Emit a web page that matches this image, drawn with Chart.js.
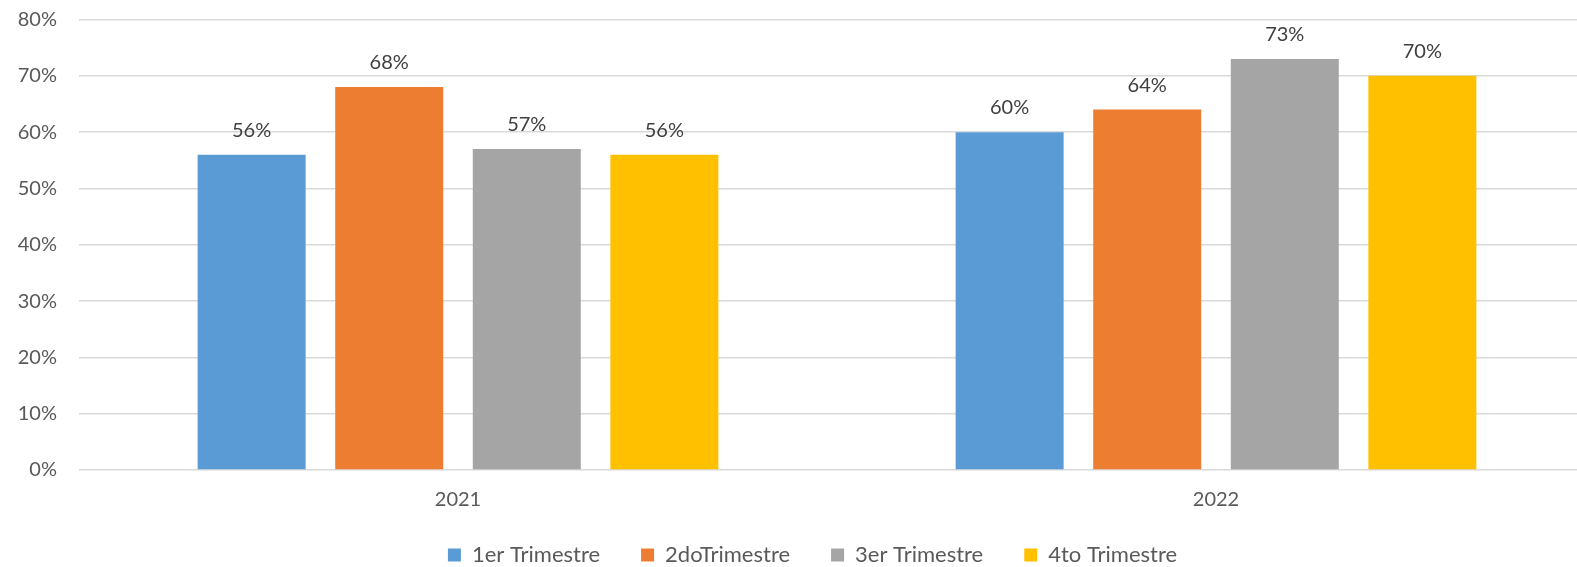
<!DOCTYPE html>
<html>
<head>
<meta charset="utf-8">
<script src="https://cdn.jsdelivr.net/npm/chart.js@4/dist/chart.umd.min.js"></script>
<style>
  html, body { margin: 0; padding: 0; background: #fff; overflow: hidden; }
  /* canvas runs a little past the right edge of the window, plot is cut there */
  #wrap { position: relative; width: 1595px; height: 567px; }
</style>
</head>
<body>
<div id="wrap"><canvas id="myChart"></canvas></div>
<script>
// categories and series
const years = ['2021', '2022'];
const quarterNames = ['1er Trimestre', '2doTrimestre', '3er Trimestre', '4to Trimestre'];
const q1 = [56, 60];
const q2 = [68, 64];
const q3 = [57, 73];
const q4 = [56, 70];
const yTickMax = 80;
const yTickStep = 10;

const colors = ['#5B9BD5', '#ED7D31', '#A5A5A5', '#FFC000'];
const FONT = 'Lato';

// percentage text above every bar
const valueLabels = {
    id: 'valueLabels',
    afterDatasetsDraw(chart) {
        const ctx = chart.ctx;
        ctx.save();
        ctx.font = '20px ' + FONT;
        ctx.fillStyle = '#404040';
        ctx.textAlign = 'center';
        ctx.textBaseline = 'alphabetic';
        chart.data.datasets.forEach((ds, i) => {
            chart.getDatasetMeta(i).data.forEach((bar, j) => {
                ctx.fillText(ds.data[j] + '%', bar.x, bar.y - 18);
            });
        });
        ctx.restore();
    }
};

// legend: fixed height in the layout, then nudged into place
const legendPlace = {
    id: 'legendPlace',
    beforeInit(chart) {
        const fit = chart.legend.fit;
        chart.legend.fit = function() {
            fit.call(this);
            this.height = 55;
        };
    },
    afterLayout(chart) {
        const lg = chart.legend;
        lg.top -= 9;
        lg.left += 15;
        lg.right += 15;
    }
};

const ctx = document.getElementById('myChart').getContext('2d');

new Chart(ctx, {
    type: 'bar',
    data: {
        labels: years,
        datasets: [q1, q2, q3, q4].map((vals, i) => ({
            label: quarterNames[i],
            data: vals,
            backgroundColor: colors[i],
            categoryPercentage: 0.726,
            barPercentage: 0.785
        }))
    },
    options: {
        responsive: true,
        maintainAspectRatio: false,
        animation: false,
        layout: { padding: { top: 19.5, left: 0, right: 0, bottom: 0 } },
        plugins: {
            legend: {
                position: 'bottom',
                labels: {
                    boxWidth: 13,
                    boxHeight: 13,
                    padding: 41,
                    color: '#595959',
                    font: { family: FONT, size: 22 }
                }
            },
            tooltip: { enabled: false }
        },
        scales: {
            y: {
                min: 0,
                max: yTickMax,
                border: { display: false },
                grid: { color: '#d9d9d9', lineWidth: 1.5, drawTicks: false },
                ticks: {
                    stepSize: yTickStep,
                    padding: 22,
                    color: '#595959',
                    font: { family: FONT, size: 20 },
                    callback: v => v + '%'
                },
                afterFit: s => {
                    s.width = 79;
                    s.paddingTop = 0;
                    s.paddingBottom = 0;
                }
            },
            x: {
                border: { display: false },
                grid: { display: false, drawTicks: false },
                ticks: {
                    padding: 18,
                    color: '#595959',
                    font: { family: FONT, size: 20 }
                },
                afterFit: s => { s.height = 42; }
            }
        }
    },
    plugins: [valueLabels, legendPlace]
});
</script>
</body>
</html>
